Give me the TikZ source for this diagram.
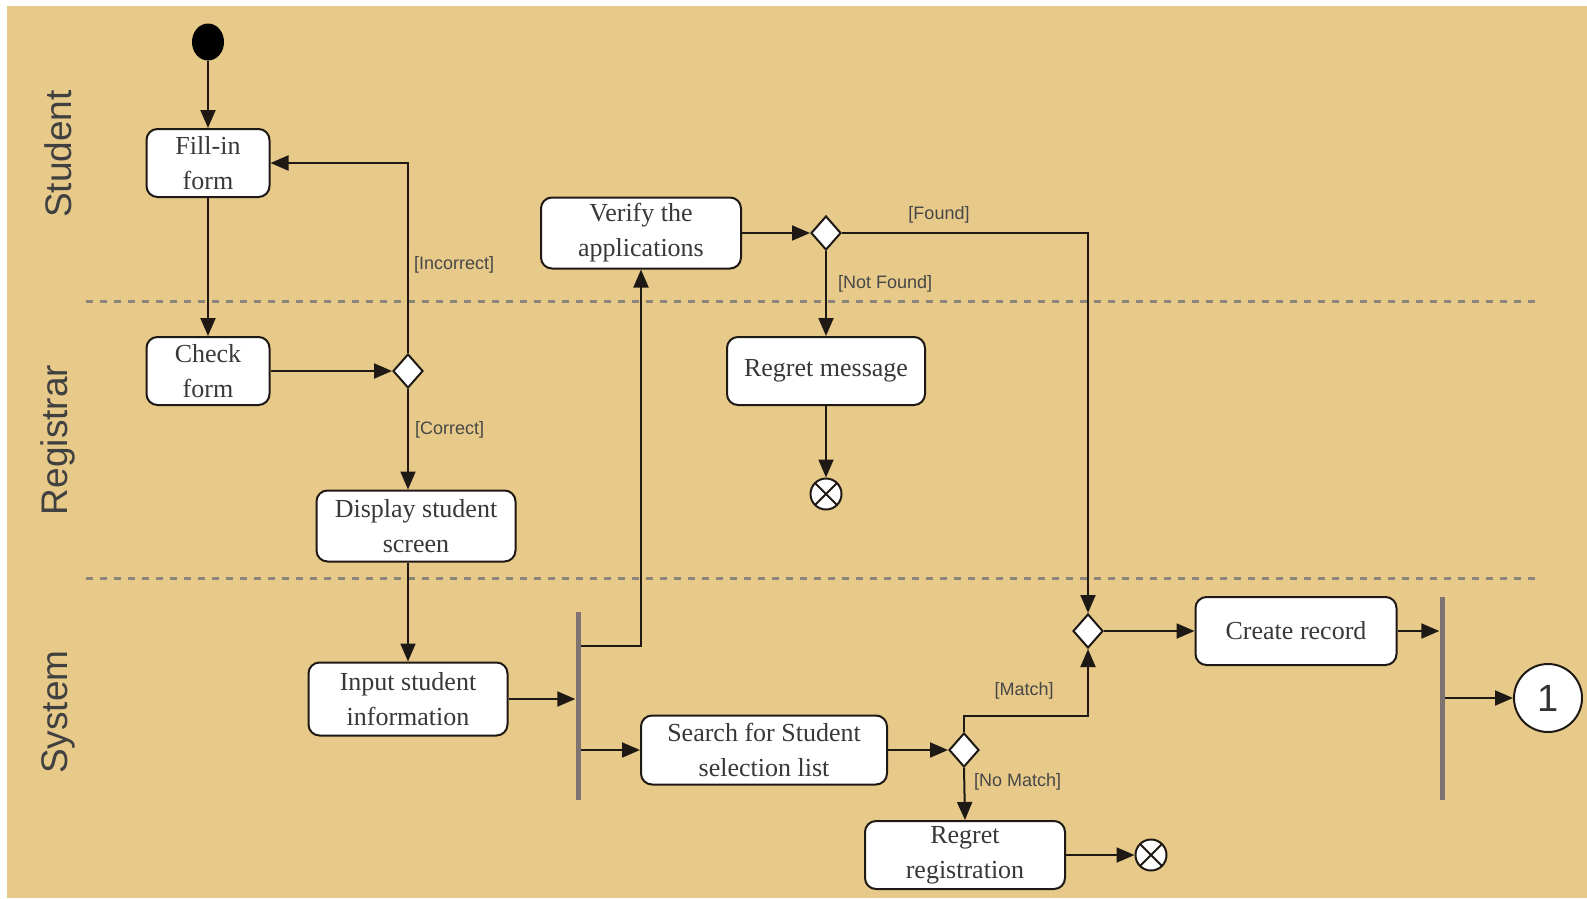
\documentclass[tikz,border=0pt]{standalone}
\usepackage{fontspec}
\setmainfont{Liberation Serif}
\setsansfont{Liberation Sans}
\usetikzlibrary{arrows.meta,shapes.geometric,calc}
\definecolor{paper}{RGB}{231,202,137}
\definecolor{ink}{RGB}{30,25,20}
\definecolor{lanec}{RGB}{140,134,122}
\definecolor{barc}{RGB}{128,114,112}
\begin{document}
\begin{tikzpicture}[x=1pt,y=-1pt,
  act/.style={draw=ink, line width=2pt, fill=white, rounded corners=11pt,
    align=center, inner sep=0pt, text=black!78,
    font=\fontsize{26}{35}\selectfont},
  dec/.style={diamond, draw=ink, line width=2pt, fill=white,
    minimum width=30pt, minimum height=34pt, inner sep=0pt},
  endflow/.style={circle, draw=ink, line width=2pt, fill=white,
    minimum size=31pt, inner sep=0pt,
    path picture={\draw[ink, line width=2pt]
      (path picture bounding box.north west) -- (path picture bounding box.south east)
      (path picture bounding box.north east) -- (path picture bounding box.south west);}},
  forkbar/.style={fill=barc, draw=none, minimum width=5pt, inner sep=0pt},
  flow/.style={draw=ink, line width=2pt, -{Triangle[length=18pt,width=15pt]}},
  guard/.style={font=\sffamily\fontsize{18}{20}\selectfont, text=black!72, inner sep=1pt},
  lanetitle/.style={font=\sffamily\fontsize{37}{40}\selectfont, text=black!75, rotate=90},
  laneline/.style={draw=lanec, line width=3pt, dash pattern=on 7pt off 7pt}
]
% page and paper background
\useasboundingbox (0,0) rectangle (1587,898);
\fill[white] (0,0) rectangle (1587,898);
\fill[paper] (7,6) rectangle (1587,898);

% swimlane separators and titles
\draw[laneline] (86,301) -- (1538,301);
\draw[laneline] (86,578) -- (1538,578);
\node[lanetitle] (lstudent) at (58,154) {Student};
\node[lanetitle] (lregistrar) at (58,440) {Registrar};
\node[lanetitle] (lsystem) at (58,712) {System};

% activity nodes
\node[ellipse, fill=black, minimum width=32pt, minimum height=37pt, inner sep=0pt] (start) at (208,42) {};
\node[act, minimum width=123pt, minimum height=68pt] (fill) at (208,163) {Fill-in\\form};
\node[act, minimum width=123pt, minimum height=68pt] (check) at (208,371) {Check\\form};
\node[dec] (d1) at (408,371) {};
\node[act, minimum width=199pt, minimum height=71pt] (display) at (416,526) {Display student\\screen};
\node[act, minimum width=199pt, minimum height=73pt] (input) at (408,699) {Input student\\information};
\node[forkbar, minimum height=188pt] (bar1) at (578,706) {};
\node[act, minimum width=200pt, minimum height=71pt] (verify) at (641,233) {Verify the\\applications};
\node[dec] (d2) at (826,233) {};
\node[act, minimum width=198pt, minimum height=68pt] (regmsg) at (826,371) {Regret message};
\node[endflow] (end1) at (826,494) {};
\node[act, minimum width=246pt, minimum height=69pt] (search) at (764,750) {Search for Student\\selection list};
\node[dec] (d4) at (964,750) {};
\node[act, minimum width=200pt, minimum height=68pt] (regreg) at (965,855) {Regret\\registration};
\node[endflow] (end2) at (1151,855) {};
\node[dec] (d3) at (1088,631) {};
\node[act, minimum width=201pt, minimum height=68pt] (create) at (1296,631) {Create record};
\node[forkbar, minimum height=203pt] (bar2) at (1442,698) {};
\node[circle, draw=ink, line width=2pt, fill=white, minimum size=68pt, inner sep=0pt,
  font=\sffamily\fontsize{38}{40}\selectfont, text=black!80] (conn) at (1548,698) {1};

% control flows
\draw[flow] (start) -- (fill);
\draw[flow] (fill) -- (check);
\draw[flow] (check) -- (d1);
\draw[flow] (d1.north) |- (fill.east);
\draw[flow] (d1.south) -- (d1.south |- display.north);
\draw[flow] (input.north |- display.south) -- (input.north);
\draw[flow] (input.east) -- (input.east -| bar1.west);
\draw[flow] (bar1.east |- 0,646) -| (verify.south);
\draw[flow] (bar1.east |- search.west) -- (search.west);
\draw[flow] (verify.east) -- (d2.west);
\draw[flow] (d2.east) -| (d3.north);
\draw[flow] (d2.south) -- (regmsg.north);
\draw[flow] (regmsg.south) -- (end1.north);
\draw[flow] (search.east) -- (d4.west);
\draw[flow] (d4.north) -- (d4.north |- 0,716) -| (d3.south);
\draw[flow] (d4.south) -- (regreg.north);
\draw[flow] (regreg.east) -- (end2.west);
\draw[flow] (d3.east) -- (create.west);
\draw[flow] (create.east) -- (create.east -| bar2.west);
\draw[flow] (bar2.east |- conn) -- (conn.west);

% guard conditions
\node[guard, anchor=west] (gincorrect) at (413,265) {[Incorrect]};
\node[guard, anchor=west] (gcorrect) at (414,430) {[Correct]};
\node[guard] (gfound) at (939,215) {[Found]};
\node[guard, anchor=west] (gnotfound) at (837,284) {[Not Found]};
\node[guard] (gmatch) at (1024,691) {[Match]};
\node[guard, anchor=west] (gnomatch) at (973,782) {[No Match]};
\end{tikzpicture}
\end{document}
